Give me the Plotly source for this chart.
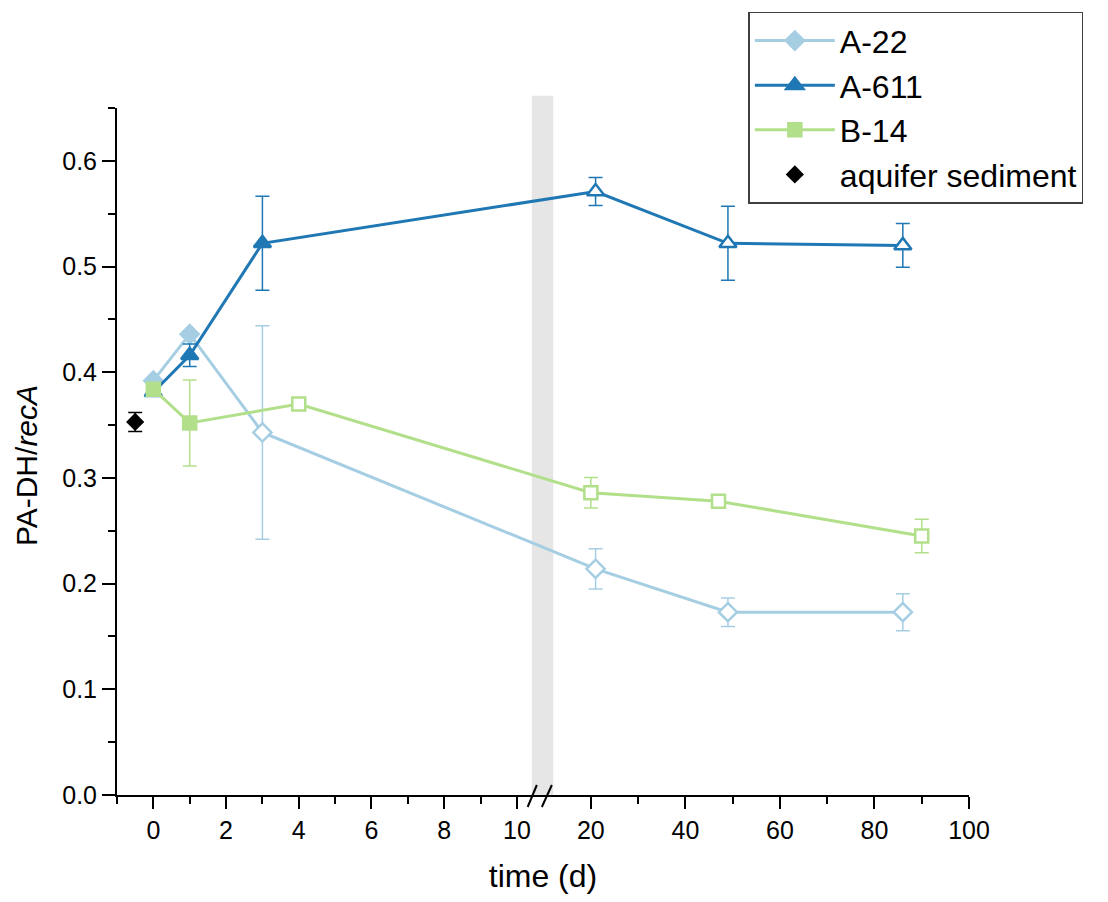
import plotly.graph_objects as go

# ---------------- data ----------------
A22_x = [0, 1, 3, 21, 49, 86]
A22_y = [0.392, 0.436, 0.343, 0.214, 0.173, 0.173]
A22_err = [None, None, 0.101, 0.019, 0.0135, 0.0175]
A22_open = [False, False, True, True, True, True]

A611_x = [0, 1, 3, 21, 49, 86]
A611_y = [0.381, 0.416, 0.522, 0.571, 0.522, 0.520]
A611_err = [None, 0.0106, 0.0445, 0.0133, 0.035, 0.0207]
A611_open = [False, False, False, True, True, True]

B14_x = [0, 1, 4, 20, 47, 90]
B14_y = [0.384, 0.352, 0.370, 0.286, 0.278, 0.245]
B14_err = [None, 0.0407, None, 0.0145, None, 0.0158]
B14_open = [False, False, True, True, True, True]

SED_x = [-0.5]
SED_y = [0.353]
SED_err = [0.009]

left_ticks = [0, 2, 4, 6, 8, 10]
right_ticks = [20, 40, 60, 80, 100]
left_minor = [-1, 1, 3, 5, 7, 9]
right_minor = [30, 50, 70, 90]

# ---------------- broken axis scale ----------------
B_L = 10.64      # left segment ends here (days)
B_R = 9.27       # right segment starts here (days)
RATIO = 4.725 / 36.34   # right segment compression


def brk(v):
    return v if v <= 10 else B_L + (v - B_R) * RATIO


C_A22 = "#a6cee3"
C_A611 = "#1f78b4"
C_B14 = "#b2df8a"

fig = go.Figure()

series = [
    ("A-22", A22_x, A22_y, A22_err, A22_open, C_A22, "diamond", 14),
    ("A-611", A611_x, A611_y, A611_err, A611_open, C_A611, "triangle-up", 15),
    ("B-14", B14_x, B14_y, B14_err, B14_open, C_B14, "square", 13),
]
for name, xs, ys, errs, opens, col, sym, sz in series:
    fig.add_trace(go.Scatter(
        x=[brk(v) for v in xs], y=ys, name=name, mode="lines+markers",
        line=dict(color=col, width=3),
        marker=dict(symbol=sym, size=sz,
                    color=["white" if o else col for o in opens],
                    line=dict(color=col, width=2.5)),
        error_y=dict(type="data", array=errs, visible=True, color=col,
                     thickness=1.5, width=7),
    ))

fig.add_trace(go.Scatter(
    x=[brk(v) for v in SED_x], y=SED_y, name="aquifer sediment", mode="markers",
    marker=dict(symbol="diamond", size=14, color="black"),
    error_y=dict(type="data", array=SED_err, visible=True, color="black",
                 thickness=1.5, width=7),
))

# gray band at the break
fig.add_shape(type="rect", xref="x", yref="paper", x0=10.41, x1=11.0,
              y0=0, y1=1.018, fillcolor="#e6e6e6", line=dict(width=0),
              layer="below")
# break marks
for x0, x1 in [(-12.5, -3.3), (1.7, 11.7)]:
    fig.add_shape(type="line", xref="x", yref="paper",
                  xsizemode="pixel", xanchor=B_L, x0=x0, x1=x1,
                  ysizemode="pixel", yanchor=0, y0=-12, y1=10,
                  line=dict(color="black", width=2))

font_fam = "Liberation Sans, Arial, sans-serif"

# y-axis title
fig.add_annotation(text="PA-DH/<i>recA</i>", xref="paper", yref="paper",
                   x=-0.107, y=0.48, xanchor="center", yanchor="middle",
                   textangle=-90, showarrow=False, font=dict(size=30))

fig.update_layout(
    width=1108, height=902,
    margin=dict(l=117, r=139, t=108, b=107),
    paper_bgcolor="white", plot_bgcolor="white",
    font=dict(family=font_fam, color="black", size=25),
    showlegend=True,
    legend=dict(x=0.741, y=1.14, xanchor="left", yanchor="top",
                bgcolor="white", bordercolor="#404040", borderwidth=1.5,
                font=dict(size=32), itemwidth=80, tracegroupgap=0),
    xaxis=dict(
        range=[-1, brk(100)], showgrid=False, zeroline=False,
        showline=True, linecolor="black", linewidth=2,
        ticks="outside", ticklen=12, tickwidth=2, tickcolor="black",
        tickmode="array",
        tickvals=[brk(v) for v in left_ticks + right_ticks],
        ticktext=[str(v) for v in left_ticks + right_ticks],
        tickfont=dict(size=25),
        minor=dict(tickmode="array", tickvals=[brk(v) for v in left_minor + right_minor],
                   ticks="outside", ticklen=7, tickwidth=2, tickcolor="black"),
        title=dict(text="time (d)", font=dict(size=32), standoff=22),
    ),
    yaxis=dict(
        range=[0, 0.65], showgrid=False, zeroline=False,
        showline=True, linecolor="black", linewidth=2,
        ticks="outside", ticklen=13, tickwidth=2, tickcolor="black",
        dtick=0.1, tick0=0, tickformat=".1f", tickfont=dict(size=25),
        minor=dict(dtick=0.05, ticks="outside", ticklen=7, tickwidth=2,
                   tickcolor="black"),
    ),
)

fig.write_html("out.html", config={"displayModeBar": False},
               post_script="document.body.style.margin='0';")
